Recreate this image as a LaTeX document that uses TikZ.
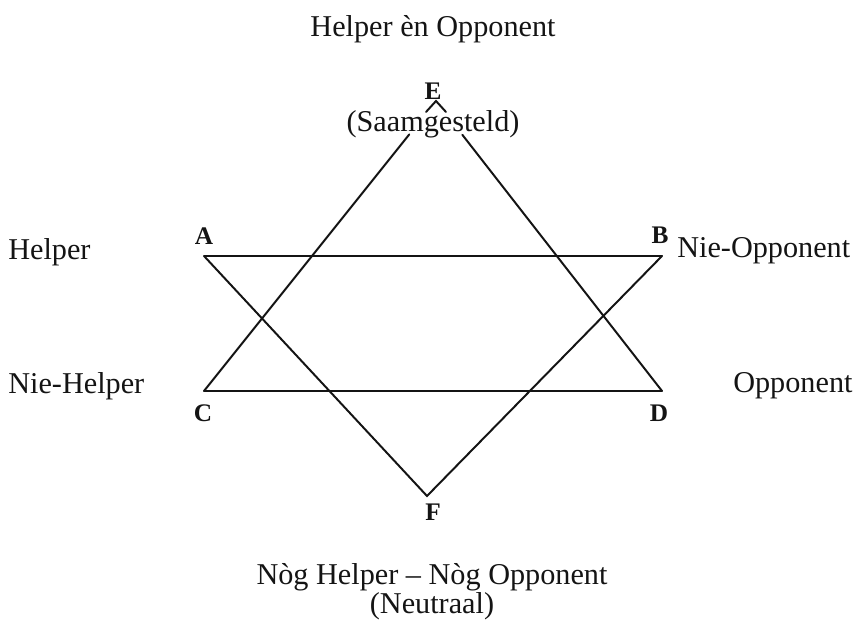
\documentclass[tikz,border=0pt]{standalone}
\usepackage{fontspec}
\setmainfont{Liberation Serif}
\usepackage{tikz}
\usetikzlibrary{calc,positioning}
\definecolor{inkblack}{HTML}{141414}
\tikzset{
  starline/.style={line width=1.4pt,inkblack,line cap=round},
  cornerlabel/.style={font=\fontsize{18}{20}\selectfont\bfseries,inkblack,inner sep=0pt},
  rolelabel/.style={font=\fontsize{21.5}{19}\selectfont,inkblack,inner sep=0pt}
}

\begin{document}
\begin{tikzpicture}[x=0.025cm,y=-0.025cm]
  \useasboundingbox (0,0) rectangle (859,622);
  % corners of the two triangles
  \coordinate (A) at (204,256);
  \coordinate (B) at (662,256);
  \coordinate (C) at (204,391);
  \coordinate (D) at (662,391);
  \coordinate (E) at (436,101);
  \coordinate (F) at (427,496);
  \draw[starline] (A) -- (B);
  \draw[starline] (C) -- (D);
  \draw[starline] (A) -- (F) -- (B);
  \draw[starline,shorten >=1.07cm] (C) -- (E);
  \draw[starline,shorten >=1.07cm] (D) -- (E);
  \draw[starline] ($(E)+(-10,11)$) -- (E) -- ($(E)+(10,11)$);
  % corner letters
  \node[cornerlabel] (labA) at (204,236) {A};
  \node[cornerlabel] (labB) at (660,235) {B};
  \node[cornerlabel] (labC) at (203,413) {C};
  \node[cornerlabel] (labD) at (659,413) {D};
  \node[cornerlabel] (labE) at (433,91) {E};
  \node[cornerlabel] (labF) at (433,512) {F};
  % roles
  \node[rolelabel,anchor=base] (both) at (433,37) {Helper èn Opponent};
  \node[rolelabel,anchor=base] (saam) at (433,132) {(Saamgesteld)};
  \node[rolelabel,anchor=base west] (help) at (8,260) {Helper};
  \node[rolelabel,anchor=base west] (niehelp) at (8,393) {Nie-Helper};
  \node[rolelabel,anchor=base west] (nieopp) at (677,258) {Nie-Opponent};
  \node[rolelabel,anchor=base west] (opp) at (733,392) {Opponent};
  \node[rolelabel,anchor=north,align=center] (neutral) at (432,563) {Nòg Helper – Nòg Opponent\\(Neutraal)};
\end{tikzpicture}
\end{document}
